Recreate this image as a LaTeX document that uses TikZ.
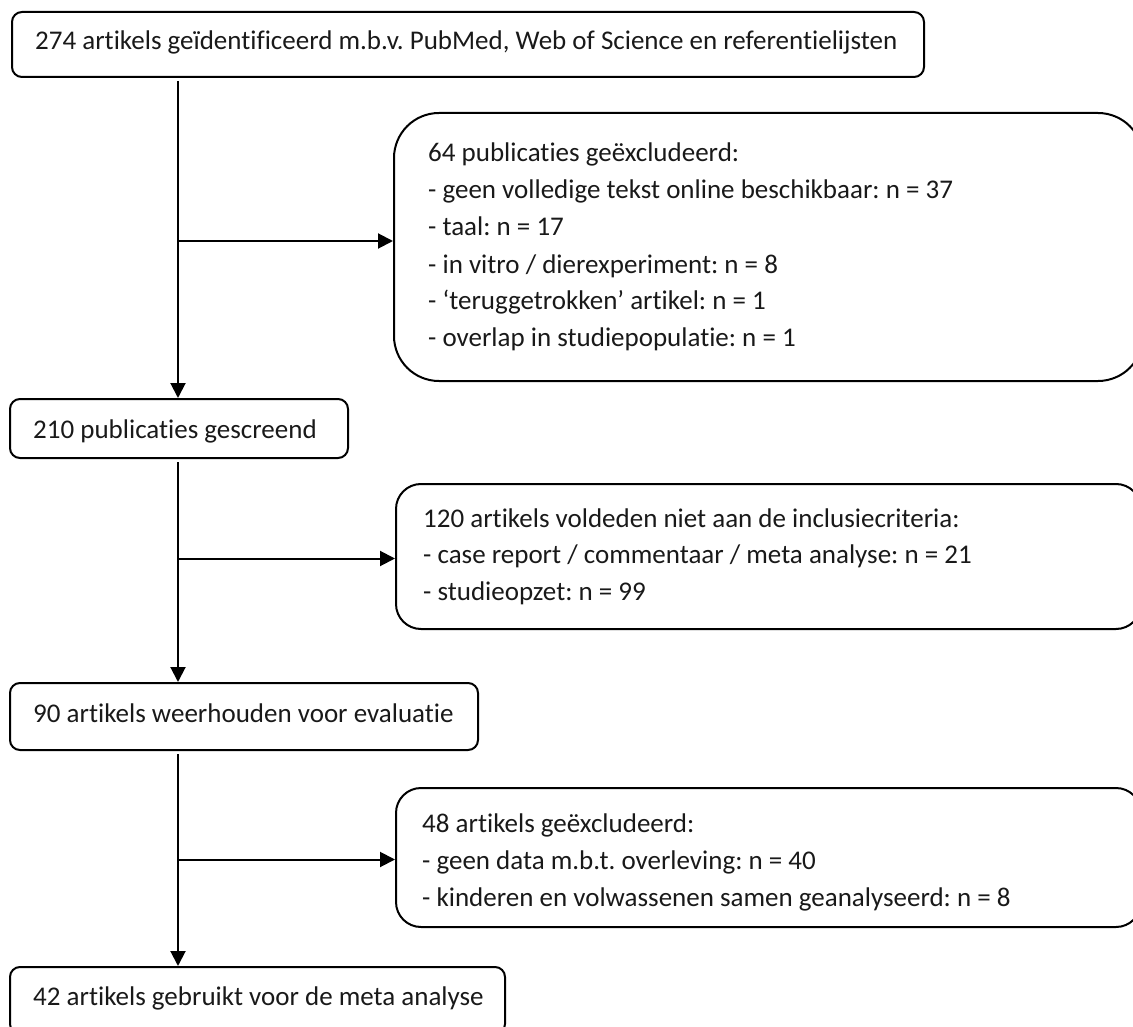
\documentclass[tikz,border=0pt]{standalone}
\usepackage{fontspec}
\setmainfont{Carlito}[Ligatures={NoCommon,NoRequired,NoContextual}]
\frenchspacing
\usetikzlibrary{arrows.meta}
\tikzset{
  boxnode/.style={draw=black, line width=2pt, rounded corners=10pt, anchor=north west, inner sep=0pt},
  bigbox/.style={boxnode, rounded corners=45pt},
  midbox/.style={boxnode, rounded corners=25pt},
  txt/.style={anchor=base west, inner sep=0pt, font=\fontsize{27}{32}\selectfont, text=black!90},
  arr/.style={line width=2pt, -{Triangle[length=15pt,width=15pt]}},
}
\begin{document}
\begin{tikzpicture}[x=1pt,y=-1pt]
\useasboundingbox (0,0) rectangle (1133,1027);
\clip (0,0) rectangle (1133,1027);
\coordinate (spine) at (178,0);
% boxes
\node[boxnode, minimum width=912pt, minimum height=65pt] (b1) at (11,11) {};
\node[bigbox, minimum width=749pt, minimum height=268pt] (b2) at (393,112) {};
\node[boxnode, minimum width=338pt, minimum height=59pt] (b3) at (9,398) {};
\node[midbox, minimum width=745pt, minimum height=145pt] (b4) at (395,483) {};
\node[boxnode, minimum width=468pt, minimum height=67pt] (b5) at (9,682) {};
\node[midbox, minimum width=745pt, minimum height=139pt] (b6) at (395,787) {};
\node[boxnode, minimum width=495pt, minimum height=67pt] (b7) at (9,966) {};
% texts
\node[txt] (t1) at (35,50) {274 artikels geïdentificeerd m.b.v. PubMed, Web of Science en referentielijsten};
\node[txt] (t2a) at (428,162) {64 publicaties geëxcludeerd:};
\node[txt] (t2b) at (428,199) {- geen volledige tekst online beschikbaar: n = 37};
\node[txt] (t2c) at (428,236) {- taal: n = 17};
\node[txt] (t2d) at (428,273) {- in vitro / dierexperiment: n = 8};
\node[txt] (t2e) at (428,309) {- ‘teruggetrokken’ artikel: n = 1};
\node[txt] (t2f) at (428,346) {- overlap in studiepopulatie: n = 1};
\node[txt] (t3) at (33,438) {210 publicaties gescreend};
\node[txt] (t4a) at (423,527) {120 artikels voldeden niet aan de inclusiecriteria:};
\node[txt] (t4b) at (423,563) {- case report / commentaar / meta analyse: n = 21};
\node[txt] (t4c) at (423,600) {- studieopzet: n = 99};
\node[txt] (t5) at (33,722) {90 artikels weerhouden voor evaluatie};
\node[txt] (t6a) at (422,832) {48 artikels geëxcludeerd:};
\node[txt] (t6b) at (422,869) {- geen data m.b.t. overleving: n = 40};
\node[txt] (t6c) at (422,906) {- kinderen en volwassenen samen geanalyseerd: n = 8};
\node[txt] (t7) at (33,1005) {42 artikels gebruikt voor de meta analyse};
% connector anchors
\coordinate (a2) at ([yshift=6pt]b2.west);
\coordinate (a4) at ([yshift=-2pt]b4.west);
\coordinate (a6) at ([yshift=-2pt]b6.west);
% connectors
\draw[arr] ([yshift=-3pt]b1.south -| spine) -- (b3.north -| spine);
\draw[arr] ([yshift=-3pt]b3.south -| spine) -- (b5.north -| spine);
\draw[arr] ([yshift=-3pt]b5.south -| spine) -- (b7.north -| spine);
\draw[arr] (spine |- a2) -- (a2);
\draw[arr] (spine |- a4) -- (a4);
\draw[arr] (spine |- a6) -- (a6);
\end{tikzpicture}
\end{document}
